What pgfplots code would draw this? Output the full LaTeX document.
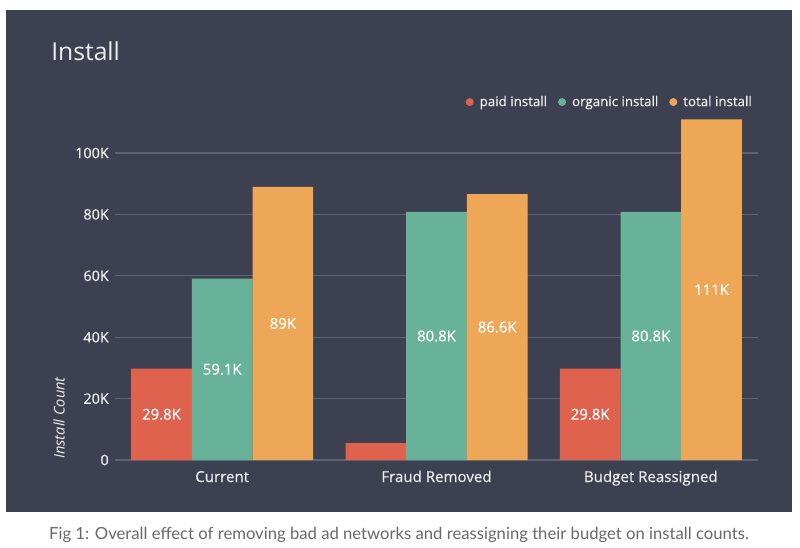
\documentclass[border=0pt]{standalone}
\usepackage{pgfplots}
\pgfplotsset{compat=1.18}
\usepackage{fontspec}
\setmainfont{Open Sans}
\newfontfamily\semib{Open Sans}[FakeBold=0.4]
\newfontfamily\capfont{Lato}
\definecolor{panel}{RGB}{61,64,80}
\definecolor{gridc}{RGB}{94,98,114}
\definecolor{paidc}{RGB}{222,98,78}
\definecolor{orgc}{RGB}{104,178,153}
\definecolor{totc}{RGB}{237,167,86}
\definecolor{lightt}{RGB}{238,238,238}
\definecolor{capc}{RGB}{105,105,105}
\pgfplotstableread{
x paid organic total
0 29800 59100 89000
1 5500 80800 86600
2 29800 80800 111000
}\datatable
\begin{document}
\begin{tikzpicture}[x=0.75pt,y=0.75pt]
\fill[white] (0,0) rectangle (800,547);
\fill[panel] (6,35) rectangle (792,537);
\node[anchor=base west, inner sep=0pt, text=lightt, font=\fontsize{18.5pt}{22pt}\selectfont] at (51,486) {Install};
\node[anchor=base, inner sep=0pt, text=capc, font=\capfont\fontsize{12.5pt}{15pt}\selectfont] at (399,8) {Fig 1: Overall effect of removing bad ad networks and reassigning their budget on install counts.};
\begin{axis}[
  at={(86.25pt,65.25pt)}, anchor=south west,
  scale only axis, width=482.25pt, height=264.75pt,
  xmin=-0.5, xmax=2.5, ymin=0, ymax=115000,
  scaled y ticks=false,
  axis line style={draw=none}, major tick length=0pt, tick style={draw=none},
  ymajorgrids, grid style={color=gridc, line width=0.9pt},
  ytick={0,20000,40000,60000,80000,100000},
  yticklabels={0,20K,40K,60K,80K,100K},
  xtick={0,1,2}, xticklabels={Current,Fraud Removed,Budget Reassigned},
  yticklabel style={anchor=east, inner sep=0pt, xshift=-4.5pt, text=lightt, font=\semib\fontsize{10.8pt}{12pt}\selectfont},
  xticklabel style={anchor=base, inner sep=0pt, yshift=-16.5pt, text=lightt, font=\semib\fontsize{11.3pt}{13pt}\selectfont},
  ylabel={Install Count},
  ylabel style={at={(axis description cs:-0.087,0.119)}, anchor=center, text=lightt, font=\itshape\fontsize{11pt}{13pt}\selectfont},
  legend columns=3,
  legend style={at={(0.997,1.014)}, anchor=east, draw=none, fill=none, text=lightt,
    font=\semib\fontsize{10pt}{12pt}\selectfont, nodes={inner sep=0pt},
    /tikz/every odd column/.append style={column sep=4.5pt},
    /tikz/every even column/.append style={column sep=8.25pt}},
  mydot/.style={legend image code/.code={\fill (0pt,0pt) circle (3pt);}},
]
\addplot[ybar, bar width=45.5pt, bar shift=-45.5pt, fill=paidc, draw=none, mydot] table[x=x,y=paid] {\datatable};
\addlegendentry{paid install}
\addplot[ybar, bar width=45.5pt, bar shift=0pt, fill=orgc, draw=none, mydot] table[x=x,y=organic] {\datatable};
\addlegendentry{organic install}
\addplot[ybar, bar width=45.5pt, bar shift=45.5pt, fill=totc, draw=none, mydot] table[x=x,y=total] {\datatable};
\addlegendentry{total install}
\addplot[forget plot, draw=none, mark=none, nodes near coords, point meta=explicit symbolic,
  every node near coord/.append style={anchor=center, text=white, font=\semib\fontsize{11.2pt}{13pt}\selectfont}]
  coordinates {
  (-0.2832,14900) [29.8K]
  (0,29550) [59.1K]
  (0.2832,44500) [89K]
  (1,40400) [80.8K]
  (1.2832,43300) [86.6K]
  (1.7168,14900) [29.8K]
  (2,40400) [80.8K]
  (2.2832,55500) [111K]
  };
\end{axis}
\end{tikzpicture}
\end{document}
